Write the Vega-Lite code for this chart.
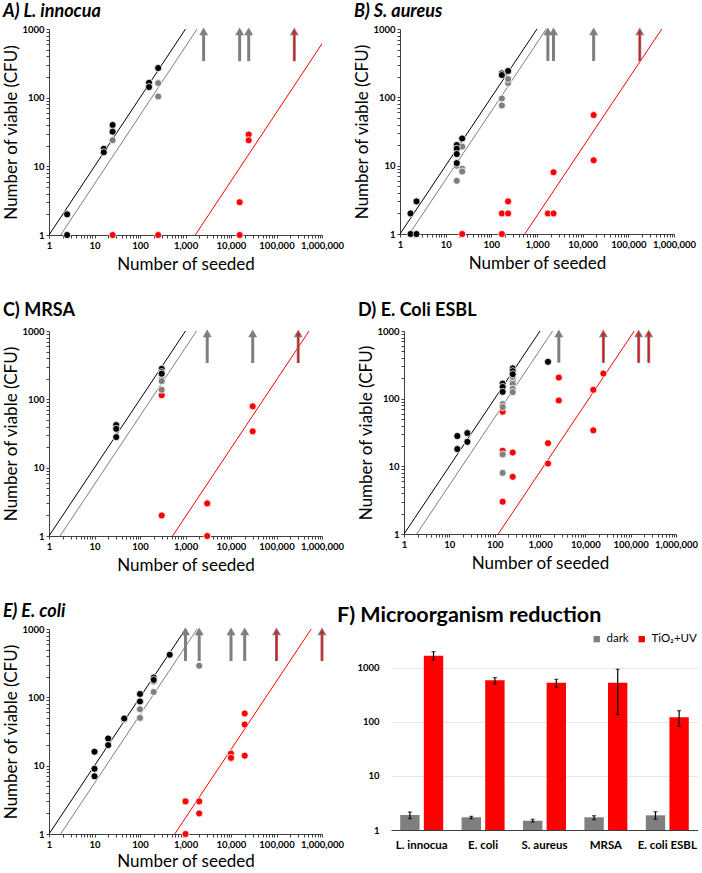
{
"$schema":"https://vega.github.io/schema/vega-lite/v6.json",
"padding":{"left":2,"top":3,"right":0,"bottom":0},
"background":"white",
"datasets":{
"pts":[
{"panel":"A","series":"control","seeded":2.5,"viable":2},{"panel":"A","series":"control","seeded":2.5,"viable":1},{"panel":"A","series":"control","seeded":16,"viable":18},{"panel":"A","series":"control","seeded":16,"viable":16},{"panel":"A","series":"control","seeded":25,"viable":40},{"panel":"A","series":"control","seeded":25,"viable":32},{"panel":"A","series":"control","seeded":158,"viable":165},{"panel":"A","series":"control","seeded":158,"viable":143},{"panel":"A","series":"control","seeded":251,"viable":270},
{"panel":"A","series":"dark","seeded":25,"viable":24},{"panel":"A","series":"dark","seeded":251,"viable":163},{"panel":"A","series":"dark","seeded":251,"viable":104},
{"panel":"A","series":"uv","seeded":25,"viable":1},{"panel":"A","series":"uv","seeded":251,"viable":1},{"panel":"A","series":"uv","seeded":15500,"viable":3},{"panel":"A","series":"uv","seeded":15500,"viable":1},{"panel":"A","series":"uv","seeded":24500,"viable":29},{"panel":"A","series":"uv","seeded":24500,"viable":24},
{"panel":"B","series":"control","seeded":1.7,"viable":2},{"panel":"B","series":"control","seeded":1.7,"viable":1},{"panel":"B","series":"control","seeded":2.3,"viable":3},{"panel":"B","series":"control","seeded":2.3,"viable":1},{"panel":"B","series":"control","seeded":17.5,"viable":20},{"panel":"B","series":"control","seeded":17.5,"viable":17.7},{"panel":"B","series":"control","seeded":17.5,"viable":14.8},{"panel":"B","series":"control","seeded":17.5,"viable":10.9},{"panel":"B","series":"control","seeded":23,"viable":25},{"panel":"B","series":"control","seeded":170,"viable":224},{"panel":"B","series":"control","seeded":170,"viable":212},{"panel":"B","series":"control","seeded":233,"viable":243},
{"panel":"B","series":"dark","seeded":17.5,"viable":6},{"panel":"B","series":"dark","seeded":17.5,"viable":10},{"panel":"B","series":"dark","seeded":23,"viable":19},{"panel":"B","series":"dark","seeded":23,"viable":9},{"panel":"B","series":"dark","seeded":23,"viable":8.2},{"panel":"B","series":"dark","seeded":170,"viable":96},{"panel":"B","series":"dark","seeded":170,"viable":76},{"panel":"B","series":"dark","seeded":233,"viable":162},{"panel":"B","series":"dark","seeded":233,"viable":185},
{"panel":"B","series":"uv","seeded":23,"viable":1},{"panel":"B","series":"uv","seeded":170,"viable":2},{"panel":"B","series":"uv","seeded":170,"viable":1},{"panel":"B","series":"uv","seeded":233,"viable":3},{"panel":"B","series":"uv","seeded":233,"viable":2},{"panel":"B","series":"uv","seeded":1730,"viable":2},{"panel":"B","series":"uv","seeded":2300,"viable":2},{"panel":"B","series":"uv","seeded":2300,"viable":8},{"panel":"B","series":"uv","seeded":17400,"viable":55},{"panel":"B","series":"uv","seeded":17400,"viable":12},
{"panel":"C","series":"control","seeded":30,"viable":42},{"panel":"C","series":"control","seeded":30,"viable":37},{"panel":"C","series":"control","seeded":30,"viable":28},{"panel":"C","series":"control","seeded":300,"viable":280},{"panel":"C","series":"control","seeded":300,"viable":250},{"panel":"C","series":"control","seeded":300,"viable":237},
{"panel":"C","series":"dark","seeded":300,"viable":200},{"panel":"C","series":"dark","seeded":300,"viable":185},{"panel":"C","series":"dark","seeded":300,"viable":138},
{"panel":"C","series":"uv","seeded":300,"viable":115},{"panel":"C","series":"uv","seeded":300,"viable":2},{"panel":"C","series":"uv","seeded":3000,"viable":3},{"panel":"C","series":"uv","seeded":3000,"viable":1},{"panel":"C","series":"uv","seeded":30000,"viable":79},{"panel":"C","series":"uv","seeded":30000,"viable":34},
{"panel":"D","series":"control","seeded":15,"viable":28},{"panel":"D","series":"control","seeded":15,"viable":18},{"panel":"D","series":"control","seeded":25,"viable":31},{"panel":"D","series":"control","seeded":25,"viable":23},{"panel":"D","series":"control","seeded":150,"viable":167},{"panel":"D","series":"control","seeded":150,"viable":149},{"panel":"D","series":"control","seeded":150,"viable":126},{"panel":"D","series":"control","seeded":250,"viable":280},{"panel":"D","series":"control","seeded":250,"viable":255},{"panel":"D","series":"control","seeded":250,"viable":230},{"panel":"D","series":"control","seeded":1500,"viable":350},
{"panel":"D","series":"dark","seeded":150,"viable":83},{"panel":"D","series":"dark","seeded":150,"viable":75},{"panel":"D","series":"dark","seeded":150,"viable":15},{"panel":"D","series":"dark","seeded":150,"viable":8},{"panel":"D","series":"dark","seeded":250,"viable":210},{"panel":"D","series":"dark","seeded":250,"viable":165},{"panel":"D","series":"dark","seeded":250,"viable":140},{"panel":"D","series":"dark","seeded":250,"viable":125},
{"panel":"D","series":"uv","seeded":150,"viable":70},{"panel":"D","series":"uv","seeded":150,"viable":64},{"panel":"D","series":"uv","seeded":150,"viable":17},{"panel":"D","series":"uv","seeded":150,"viable":3},{"panel":"D","series":"uv","seeded":250,"viable":180},{"panel":"D","series":"uv","seeded":250,"viable":16},{"panel":"D","series":"uv","seeded":250,"viable":7},{"panel":"D","series":"uv","seeded":1500,"viable":22},{"panel":"D","series":"uv","seeded":1500,"viable":11},{"panel":"D","series":"uv","seeded":2600,"viable":205},{"panel":"D","series":"uv","seeded":2600,"viable":94},{"panel":"D","series":"uv","seeded":15000,"viable":135},{"panel":"D","series":"uv","seeded":15000,"viable":34},{"panel":"D","series":"uv","seeded":25000,"viable":235},
{"panel":"E","series":"control","seeded":10,"viable":16},{"panel":"E","series":"control","seeded":10,"viable":9},{"panel":"E","series":"control","seeded":10,"viable":7},{"panel":"E","series":"control","seeded":20,"viable":25},{"panel":"E","series":"control","seeded":20,"viable":20},{"panel":"E","series":"control","seeded":45,"viable":49},{"panel":"E","series":"control","seeded":100,"viable":112},{"panel":"E","series":"control","seeded":100,"viable":87},{"panel":"E","series":"control","seeded":200,"viable":195},{"panel":"E","series":"control","seeded":200,"viable":180},{"panel":"E","series":"control","seeded":450,"viable":420},
{"panel":"E","series":"dark","seeded":45,"viable":47},{"panel":"E","series":"dark","seeded":100,"viable":67},{"panel":"E","series":"dark","seeded":100,"viable":50},{"panel":"E","series":"dark","seeded":200,"viable":170},{"panel":"E","series":"dark","seeded":200,"viable":120},{"panel":"E","series":"dark","seeded":2000,"viable":290},
{"panel":"E","series":"uv","seeded":1000,"viable":3},{"panel":"E","series":"uv","seeded":1000,"viable":1},{"panel":"E","series":"uv","seeded":2000,"viable":3},{"panel":"E","series":"uv","seeded":2000,"viable":2},{"panel":"E","series":"uv","seeded":10000,"viable":15},{"panel":"E","series":"uv","seeded":10000,"viable":13},{"panel":"E","series":"uv","seeded":20000,"viable":58},{"panel":"E","series":"uv","seeded":20000,"viable":40},{"panel":"E","series":"uv","seeded":20000,"viable":14}
],
"lns":[
{"panel":"A","series":"control","seeded":1,"viable":1},{"panel":"A","series":"control","seeded":1000,"viable":1000},{"panel":"A","series":"dark","seeded":1.8,"viable":1},{"panel":"A","series":"dark","seeded":1800,"viable":1000},{"panel":"A","series":"uv","seeded":1640,"viable":1},{"panel":"A","series":"uv","seeded":1000000,"viable":610},
{"panel":"B","series":"control","seeded":1,"viable":1},{"panel":"B","series":"control","seeded":1000,"viable":1000},{"panel":"B","series":"dark","seeded":1.6,"viable":1},{"panel":"B","series":"dark","seeded":1600,"viable":1000},{"panel":"B","series":"uv","seeded":540,"viable":1},{"panel":"B","series":"uv","seeded":540000,"viable":1000},
{"panel":"C","series":"control","seeded":1,"viable":1},{"panel":"C","series":"control","seeded":1000,"viable":1000},{"panel":"C","series":"dark","seeded":1.75,"viable":1},{"panel":"C","series":"dark","seeded":1750,"viable":1000},{"panel":"C","series":"uv","seeded":520,"viable":1},{"panel":"C","series":"uv","seeded":520000,"viable":1000},
{"panel":"D","series":"control","seeded":1,"viable":1},{"panel":"D","series":"control","seeded":1000,"viable":1000},{"panel":"D","series":"dark","seeded":1.9,"viable":1},{"panel":"D","series":"dark","seeded":1900,"viable":1000},{"panel":"D","series":"uv","seeded":120,"viable":1},{"panel":"D","series":"uv","seeded":120000,"viable":1000},
{"panel":"E","series":"control","seeded":1,"viable":1},{"panel":"E","series":"control","seeded":1000,"viable":1000},{"panel":"E","series":"dark","seeded":1.8,"viable":1},{"panel":"E","series":"dark","seeded":1800,"viable":1000},{"panel":"E","series":"uv","seeded":580,"viable":1},{"panel":"E","series":"uv","seeded":580000,"viable":1000}
],
"arr":[
{"panel":"A","seeded":2500,"kind":"dark"},{"panel":"A","seeded":15500,"kind":"dark"},{"panel":"A","seeded":24500,"kind":"dark"},{"panel":"A","seeded":246000,"kind":"uv"},
{"panel":"B","seeded":1730,"kind":"dark"},{"panel":"B","seeded":2300,"kind":"dark"},{"panel":"B","seeded":17400,"kind":"dark"},{"panel":"B","seeded":178000,"kind":"uv"},
{"panel":"C","seeded":3000,"kind":"dark"},{"panel":"C","seeded":30000,"kind":"dark"},{"panel":"C","seeded":300000,"kind":"uv"},
{"panel":"D","seeded":2600,"kind":"dark"},{"panel":"D","seeded":25000,"kind":"uv"},{"panel":"D","seeded":150000,"kind":"uv"},{"panel":"D","seeded":250000,"kind":"uv"},
{"panel":"E","seeded":1000,"kind":"dark"},{"panel":"E","seeded":2000,"kind":"dark"},{"panel":"E","seeded":10000,"kind":"dark"},{"panel":"E","seeded":20000,"kind":"dark"},{"panel":"E","seeded":100000,"kind":"uv"},{"panel":"E","seeded":1000000,"kind":"uv"}
],
"bars":[
{"organism":"L. innocua","treatment":"dark","value":1.9,"lo":1.62,"hi":2.15},{"organism":"L. innocua","treatment":"TiO₂+UV","value":1690,"lo":1406,"hi":2006},
{"organism":"E. coli","treatment":"dark","value":1.72,"lo":1.62,"hi":1.79},{"organism":"E. coli","treatment":"TiO₂+UV","value":591,"lo":505,"hi":662},
{"organism":"S. aureus","treatment":"dark","value":1.49,"lo":1.41,"hi":1.58},{"organism":"S. aureus","treatment":"TiO₂+UV","value":535,"lo":438,"hi":617},
{"organism":"MRSA","treatment":"dark","value":1.72,"lo":1.55,"hi":1.84},{"organism":"MRSA","treatment":"TiO₂+UV","value":535,"lo":137,"hi":945},
{"organism":"E. coli ESBL","treatment":"dark","value":1.87,"lo":1.58,"hi":2.18},{"organism":"E. coli ESBL","treatment":"TiO₂+UV","value":122,"lo":83,"hi":162}
]
},
"spacing":29,
"resolve":{"scale":{"color":"independent"}},
"vconcat":[
{"spacing":9,"hconcat":[
{"width":273,"height":206,"title":{"text":"A) L. innocua","fontStyle":"italic"},
"encoding":{"x":{"field":"seeded","type":"quantitative","scale":{"type":"log","domain":[1,1000000],"nice":false},"axis":{"title":"Number of seeded","format":",","tickCount":7,"labelOverlap":false,"labelFlush":false}}},
"layer":[
{"data":{"name":"lns"},"transform":[{"filter":"datum.panel==='A'"}],"mark":{"type":"line","strokeWidth":1,"clip":true},"encoding":{"y":{"field":"viable","type":"quantitative","scale":{"type":"log","domain":[1,1000],"nice":false},"axis":{"title":"Number of viable (CFU)","format":"d","tickCount":4,"labelOverlap":false,"labelFlush":false}},"color":{"field":"series","type":"nominal","scale":{"domain":["control","dark","uv"],"range":["#000000","#7f7f7f","#ff0000"]},"legend":null},"detail":{"field":"series"}}},
{"data":{"name":"pts"},"transform":[{"filter":"datum.panel==='A'"}],"mark":{"type":"circle","size":50,"opacity":1,"stroke":"#ffffff","strokeWidth":0.8},"encoding":{"y":{"field":"viable","type":"quantitative","scale":{"type":"log","domain":[1,1000],"nice":false},"axis":{"title":"Number of viable (CFU)","format":"d","tickCount":4,"labelOverlap":false,"labelFlush":false}},"color":{"field":"series","type":"nominal","scale":{"domain":["control","dark","uv"],"range":["#000000","#7f7f7f","#ff0000"]},"legend":null},"order":{"field":"series","sort":"descending"}}},
{"data":{"name":"arr"},"transform":[{"filter":"datum.panel==='A'"}],"mark":{"type":"rule","strokeWidth":3,"color":"#7f7f7f"},"encoding":{"y":{"datum":340,"type":"quantitative"},"y2":{"datum":870}}},
{"data":{"name":"arr"},"transform":[{"filter":"datum.panel==='A'"}],"mark":{"type":"point","shape":"triangle-up","filled":true,"opacity":1,"size":80,"color":"#7f7f7f"},"encoding":{"y":{"datum":920,"type":"quantitative"}}},
{"data":{"name":"arr"},"transform":[{"filter":"datum.panel==='A' && datum.kind==='uv'"}],"mark":{"type":"rule","strokeWidth":1.5,"color":"#e8161b"},"encoding":{"y":{"datum":340,"type":"quantitative"},"y2":{"datum":880}}},
{"data":{"name":"arr"},"transform":[{"filter":"datum.panel==='A' && datum.kind==='uv'"}],"mark":{"type":"point","shape":"triangle-up","filled":true,"opacity":1,"size":22,"color":"#e8161b"},"encoding":{"y":{"datum":920,"type":"quantitative"}}}
]},
{"width":274,"height":205,"title":{"text":"B) S. aureus","fontStyle":"italic"},
"encoding":{"x":{"field":"seeded","type":"quantitative","scale":{"type":"log","domain":[1,1000000],"nice":false},"axis":{"title":"Number of seeded","format":",","tickCount":7,"labelOverlap":false,"labelFlush":false}}},
"layer":[
{"data":{"name":"lns"},"transform":[{"filter":"datum.panel==='B'"}],"mark":{"type":"line","strokeWidth":1,"clip":true},"encoding":{"y":{"field":"viable","type":"quantitative","scale":{"type":"log","domain":[1,1000],"nice":false},"axis":{"title":"Number of viable (CFU)","format":"d","tickCount":4,"labelOverlap":false,"labelFlush":false}},"color":{"field":"series","type":"nominal","scale":{"domain":["control","dark","uv"],"range":["#000000","#7f7f7f","#ff0000"]},"legend":null},"detail":{"field":"series"}}},
{"data":{"name":"pts"},"transform":[{"filter":"datum.panel==='B'"}],"mark":{"type":"circle","size":50,"opacity":1,"stroke":"#ffffff","strokeWidth":0.8},"encoding":{"y":{"field":"viable","type":"quantitative","scale":{"type":"log","domain":[1,1000],"nice":false},"axis":{"title":"Number of viable (CFU)","format":"d","tickCount":4,"labelOverlap":false,"labelFlush":false}},"color":{"field":"series","type":"nominal","scale":{"domain":["control","dark","uv"],"range":["#000000","#7f7f7f","#ff0000"]},"legend":null},"order":{"field":"series","sort":"descending"}}},
{"data":{"name":"arr"},"transform":[{"filter":"datum.panel==='B'"}],"mark":{"type":"rule","strokeWidth":3,"color":"#7f7f7f"},"encoding":{"y":{"datum":340,"type":"quantitative"},"y2":{"datum":870}}},
{"data":{"name":"arr"},"transform":[{"filter":"datum.panel==='B'"}],"mark":{"type":"point","shape":"triangle-up","filled":true,"opacity":1,"size":80,"color":"#7f7f7f"},"encoding":{"y":{"datum":920,"type":"quantitative"}}},
{"data":{"name":"arr"},"transform":[{"filter":"datum.panel==='B' && datum.kind==='uv'"}],"mark":{"type":"rule","strokeWidth":1.5,"color":"#e8161b"},"encoding":{"y":{"datum":340,"type":"quantitative"},"y2":{"datum":880}}},
{"data":{"name":"arr"},"transform":[{"filter":"datum.panel==='B' && datum.kind==='uv'"}],"mark":{"type":"point","shape":"triangle-up","filled":true,"opacity":1,"size":22,"color":"#e8161b"},"encoding":{"y":{"datum":920,"type":"quantitative"}}}
]}
]},
{"spacing":13,"hconcat":[
{"width":273,"height":205,"title":{"text":"C) MRSA","offset":6},
"encoding":{"x":{"field":"seeded","type":"quantitative","scale":{"type":"log","domain":[1,1000000],"nice":false},"axis":{"title":"Number of seeded","format":",","tickCount":7,"labelOverlap":false,"labelFlush":false}}},
"layer":[
{"data":{"name":"lns"},"transform":[{"filter":"datum.panel==='C'"}],"mark":{"type":"line","strokeWidth":1,"clip":true},"encoding":{"y":{"field":"viable","type":"quantitative","scale":{"type":"log","domain":[1,1000],"nice":false},"axis":{"title":"Number of viable (CFU)","format":"d","tickCount":4,"labelOverlap":false,"labelFlush":false}},"color":{"field":"series","type":"nominal","scale":{"domain":["control","dark","uv"],"range":["#000000","#7f7f7f","#ff0000"]},"legend":null},"detail":{"field":"series"}}},
{"data":{"name":"pts"},"transform":[{"filter":"datum.panel==='C'"}],"mark":{"type":"circle","size":50,"opacity":1,"stroke":"#ffffff","strokeWidth":0.8},"encoding":{"y":{"field":"viable","type":"quantitative","scale":{"type":"log","domain":[1,1000],"nice":false},"axis":{"title":"Number of viable (CFU)","format":"d","tickCount":4,"labelOverlap":false,"labelFlush":false}},"color":{"field":"series","type":"nominal","scale":{"domain":["control","dark","uv"],"range":["#000000","#7f7f7f","#ff0000"]},"legend":null},"order":{"field":"series","sort":"descending"}}},
{"data":{"name":"arr"},"transform":[{"filter":"datum.panel==='C'"}],"mark":{"type":"rule","strokeWidth":3,"color":"#7f7f7f"},"encoding":{"y":{"datum":340,"type":"quantitative"},"y2":{"datum":870}}},
{"data":{"name":"arr"},"transform":[{"filter":"datum.panel==='C'"}],"mark":{"type":"point","shape":"triangle-up","filled":true,"opacity":1,"size":80,"color":"#7f7f7f"},"encoding":{"y":{"datum":920,"type":"quantitative"}}},
{"data":{"name":"arr"},"transform":[{"filter":"datum.panel==='C' && datum.kind==='uv'"}],"mark":{"type":"rule","strokeWidth":1.5,"color":"#e8161b"},"encoding":{"y":{"datum":340,"type":"quantitative"},"y2":{"datum":880}}},
{"data":{"name":"arr"},"transform":[{"filter":"datum.panel==='C' && datum.kind==='uv'"}],"mark":{"type":"point","shape":"triangle-up","filled":true,"opacity":1,"size":22,"color":"#e8161b"},"encoding":{"y":{"datum":920,"type":"quantitative"}}}
]},
{"width":272,"height":203,"title":{"text":"D) E. Coli ESBL","offset":6},
"encoding":{"x":{"field":"seeded","type":"quantitative","scale":{"type":"log","domain":[1,1000000],"nice":false},"axis":{"title":"Number of seeded","format":",","tickCount":7,"labelOverlap":false,"labelFlush":false}}},
"layer":[
{"data":{"name":"lns"},"transform":[{"filter":"datum.panel==='D'"}],"mark":{"type":"line","strokeWidth":1,"clip":true},"encoding":{"y":{"field":"viable","type":"quantitative","scale":{"type":"log","domain":[1,1000],"nice":false},"axis":{"title":"Number of viable (CFU)","format":"d","tickCount":4,"labelOverlap":false,"labelFlush":false}},"color":{"field":"series","type":"nominal","scale":{"domain":["control","dark","uv"],"range":["#000000","#7f7f7f","#ff0000"]},"legend":null},"detail":{"field":"series"}}},
{"data":{"name":"pts"},"transform":[{"filter":"datum.panel==='D'"}],"mark":{"type":"circle","size":50,"opacity":1,"stroke":"#ffffff","strokeWidth":0.8},"encoding":{"y":{"field":"viable","type":"quantitative","scale":{"type":"log","domain":[1,1000],"nice":false},"axis":{"title":"Number of viable (CFU)","format":"d","tickCount":4,"labelOverlap":false,"labelFlush":false}},"color":{"field":"series","type":"nominal","scale":{"domain":["control","dark","uv"],"range":["#000000","#7f7f7f","#ff0000"]},"legend":null},"order":{"field":"series","sort":"descending"}}},
{"data":{"name":"arr"},"transform":[{"filter":"datum.panel==='D'"}],"mark":{"type":"rule","strokeWidth":3,"color":"#7f7f7f"},"encoding":{"y":{"datum":340,"type":"quantitative"},"y2":{"datum":870}}},
{"data":{"name":"arr"},"transform":[{"filter":"datum.panel==='D'"}],"mark":{"type":"point","shape":"triangle-up","filled":true,"opacity":1,"size":80,"color":"#7f7f7f"},"encoding":{"y":{"datum":920,"type":"quantitative"}}},
{"data":{"name":"arr"},"transform":[{"filter":"datum.panel==='D' && datum.kind==='uv'"}],"mark":{"type":"rule","strokeWidth":1.5,"color":"#e8161b"},"encoding":{"y":{"datum":340,"type":"quantitative"},"y2":{"datum":880}}},
{"data":{"name":"arr"},"transform":[{"filter":"datum.panel==='D' && datum.kind==='uv'"}],"mark":{"type":"point","shape":"triangle-up","filled":true,"opacity":1,"size":22,"color":"#e8161b"},"encoding":{"y":{"datum":920,"type":"quantitative"}}}
]}
]},
{"spacing":-8,"resolve":{"scale":{"color":"independent"}},"hconcat":[
{"width":273,"height":205,"title":{"text":"E) E. coli","fontStyle":"italic"},
"encoding":{"x":{"field":"seeded","type":"quantitative","scale":{"type":"log","domain":[1,1000000],"nice":false},"axis":{"title":"Number of seeded","titlePadding":5,"format":",","tickCount":7,"labelOverlap":false,"labelFlush":false}}},
"layer":[
{"data":{"name":"lns"},"transform":[{"filter":"datum.panel==='E'"}],"mark":{"type":"line","strokeWidth":1,"clip":true},"encoding":{"y":{"field":"viable","type":"quantitative","scale":{"type":"log","domain":[1,1000],"nice":false},"axis":{"title":"Number of viable (CFU)","format":"d","tickCount":4,"labelOverlap":false,"labelFlush":false}},"color":{"field":"series","type":"nominal","scale":{"domain":["control","dark","uv"],"range":["#000000","#7f7f7f","#ff0000"]},"legend":null},"detail":{"field":"series"}}},
{"data":{"name":"pts"},"transform":[{"filter":"datum.panel==='E'"}],"mark":{"type":"circle","size":50,"opacity":1,"stroke":"#ffffff","strokeWidth":0.8},"encoding":{"y":{"field":"viable","type":"quantitative","scale":{"type":"log","domain":[1,1000],"nice":false},"axis":{"title":"Number of viable (CFU)","format":"d","tickCount":4,"labelOverlap":false,"labelFlush":false}},"color":{"field":"series","type":"nominal","scale":{"domain":["control","dark","uv"],"range":["#000000","#7f7f7f","#ff0000"]},"legend":null},"order":{"field":"series","sort":"descending"}}},
{"data":{"name":"arr"},"transform":[{"filter":"datum.panel==='E'"}],"mark":{"type":"rule","strokeWidth":3,"color":"#7f7f7f"},"encoding":{"y":{"datum":340,"type":"quantitative"},"y2":{"datum":870}}},
{"data":{"name":"arr"},"transform":[{"filter":"datum.panel==='E'"}],"mark":{"type":"point","shape":"triangle-up","filled":true,"opacity":1,"size":80,"color":"#7f7f7f"},"encoding":{"y":{"datum":920,"type":"quantitative"}}},
{"data":{"name":"arr"},"transform":[{"filter":"datum.panel==='E' && datum.kind==='uv'"}],"mark":{"type":"rule","strokeWidth":1.5,"color":"#e8161b"},"encoding":{"y":{"datum":340,"type":"quantitative"},"y2":{"datum":880}}},
{"data":{"name":"arr"},"transform":[{"filter":"datum.panel==='E' && datum.kind==='uv'"}],"mark":{"type":"point","shape":"triangle-up","filled":true,"opacity":1,"size":22,"color":"#e8161b"},"encoding":{"y":{"datum":920,"type":"quantitative"}}}
]},
{"width":307,"height":201,"title":{"text":"F) Microorganism reduction","fontSize":21.5,"frame":"bounds","dx":-20},
"data":{"name":"bars"},
"encoding":{
"x":{"field":"organism","type":"nominal","sort":null,"scale":{"paddingInner":0.3,"paddingOuter":0.15},"axis":{"title":null,"labelAngle":0,"ticks":false,"tickSize":0,"domainColor":"#404040","labelFontSize":11.5,"labelPadding":9}},
"xOffset":{"field":"treatment","type":"nominal","sort":["dark","TiO₂+UV"],"scale":{"paddingInner":0.18}}
},
"layer":[
{"mark":{"type":"bar"},"encoding":{
"y":{"field":"value","type":"quantitative","scale":{"type":"log","domain":[1,5270],"nice":false},"axis":{"title":null,"values":[1,10,100,1000],"format":"d","domain":false,"ticks":false,"tickSize":0,"grid":true,"gridColor":"#e6e6e6","labelPadding":12}},
"y2":{"datum":1},
"color":{"field":"treatment","type":"nominal","sort":["dark","TiO₂+UV"],"scale":{"domain":["dark","TiO₂+UV"],"range":["#7f7f7f","#ff0000"]},"legend":{"title":null,"orient":"none","legendX":200,"legendY":4,"direction":"horizontal","symbolType":"square","symbolSize":40,"labelOffset":4,"labelFontSize":11.5,"labelFontWeight":"normal","columnPadding":7}}}},
{"mark":{"type":"rule","color":"#000000","strokeWidth":1.2},"encoding":{"y":{"field":"lo","type":"quantitative"},"y2":{"field":"hi"}}},
{"mark":{"type":"tick","color":"#000000","size":4,"thickness":1.2},"encoding":{"y":{"field":"lo","type":"quantitative"}}},
{"mark":{"type":"tick","color":"#000000","size":4,"thickness":1.2},"encoding":{"y":{"field":"hi","type":"quantitative"}}}
]}
]}
],
"config":{
"font":"Lato",
"view":{"stroke":null},
"axis":{"labelFont":"Lato","titleFont":"Lato","labelFontWeight":"bold","labelFontSize":9.5,"labelColor":"#000000","titleFontWeight":"normal","titleFontSize":17,"titleColor":"#000000","grid":false,"domainColor":"#404040","tickColor":"#404040","tickSize":3,"labelPadding":2},
"axisX":{"titlePadding":7},
"axisY":{"titlePadding":1},
"title":{"anchor":"start","fontSize":18,"fontWeight":"bold","font":"Lato","offset":3,"color":"#000000"},
"legend":{"labelFont":"Lato","labelColor":"#000000"}
}
}
